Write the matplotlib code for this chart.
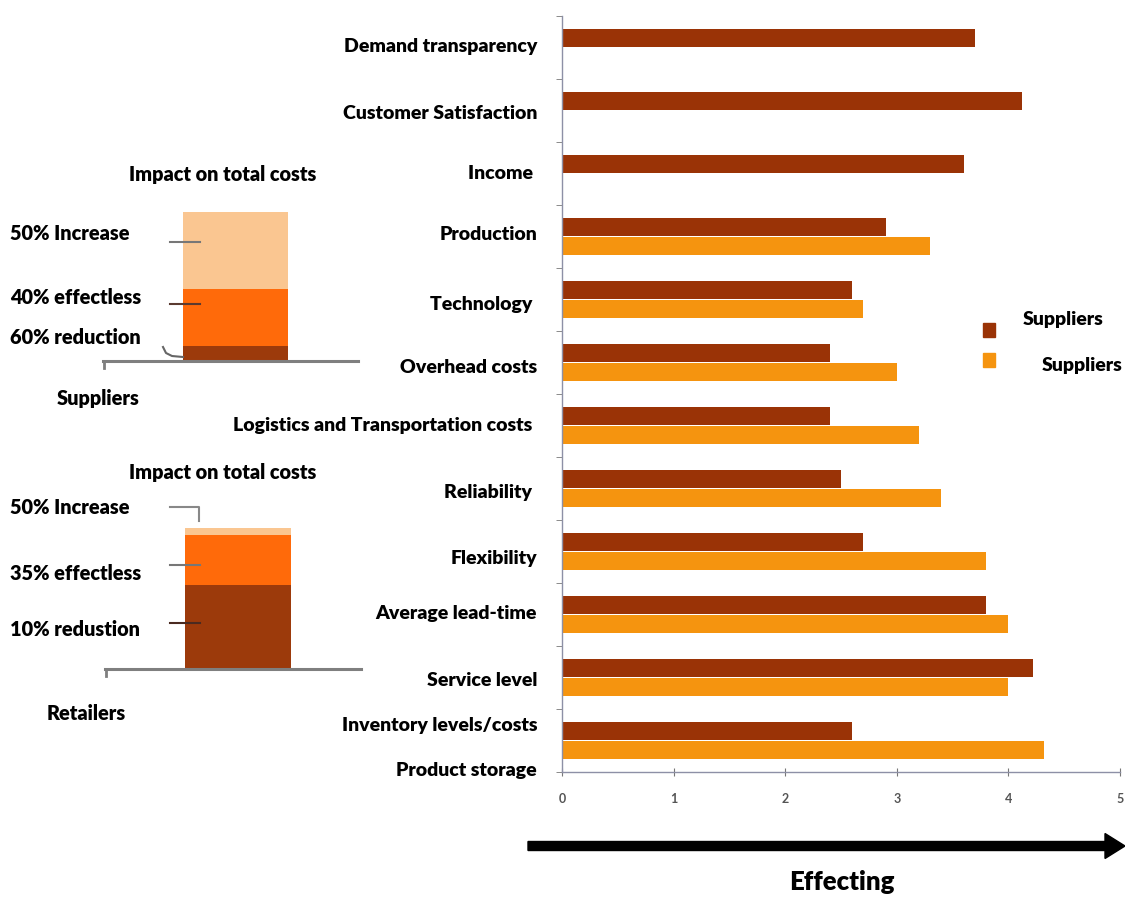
import matplotlib
matplotlib.use("Agg")
import matplotlib.pyplot as plt
import numpy as np
from matplotlib.patches import FancyArrow, Rectangle
from matplotlib.lines import Line2D

plt.rcParams['font.family'] = ['Lato', 'DejaVu Sans']
WT = "heavy"

# ---------------- data ----------------
categories = ["Demand transparency", "Customer Satisfaction", "Income", "Production",
              "Technology", "Overhead costs", "Logistics and Transportation costs",
              "Reliability", "Flexibility", "Average lead-time", "Service level",
              "Inventory levels/costs"]
label_texts = ["Demand transparency", "Customer Satisfaction", "Income ", "Production",
               "Technology ", "Overhead costs", "Logistics and Transportation costs ",
               "Reliability ", "Flexibility", "Average lead-time", "Service level",
               "Inventory levels/costs", "Product storage"]
label_pos = [-0.04, 1.02, 1.98, 2.94, 4.06, 5.06, 5.98, 7.04, 8.08, 8.96, 10.02, 10.74, 11.45]
series1 = [3.7, 4.12, 3.6, 2.9, 2.6, 2.4, 2.4, 2.5, 2.7, 3.8, 4.22, 2.6]
series2 = [np.nan, np.nan, np.nan, 3.3, 2.7, 3.0, 3.2, 3.4, 3.8, 4.0, 4.0, 4.32]
legend_labels = ["Suppliers", "Suppliers"]
xticks = [0, 1, 2, 3, 4, 5]

panel_titles = ["Impact on total costs", "Impact on total costs"]
panel_names = ["Suppliers", "Retailers"]
panel1_segments = [10.5, 37.5, 51.5]   # reduction, effectless, increase
panel2_segments = [56.0, 33.5, 4.5]
panel1_labels = ["50% Increase", "40% effectless", "60% reduction"]
panel2_labels = ["50% Increase", "35% effectless", "10% redustion"]

C_DARK = "#9A3306"
C_ORANGE = "#F5940F"
P_LIGHT = "#FAC691"
P_ORANGE = "#FF6A0A"
P_DARK = "#9C3A0B"

W, H = 1125, 905
fig = plt.figure(figsize=(W / 100, H / 100), dpi=100)
fig.patch.set_facecolor("white")

def fx(px):
    return px / W

def fy(py):
    return 1 - py / H

# ---------------- main bar chart ----------------
ax = fig.add_axes([fx(562), fy(772), fx(1120) - fx(562), fy(16) - fy(772)])
y = np.arange(len(categories))
off = 0.15
hgt = 0.28
ax.barh(y - off, series1, height=hgt, color=C_DARK)
ax.barh(y + off, series2, height=hgt, color=C_ORANGE)
ax.set_xlim(0, 5)
ax.set_ylim(11.5, -0.5)
for s in ["top", "right"]:
    ax.spines[s].set_visible(False)
for s in ["left", "bottom"]:
    ax.spines[s].set_color("#8d90a6")
    ax.spines[s].set_linewidth(1.0)
ax.set_xticks(xticks)
ax.set_xticklabels([str(t) for t in xticks], fontsize=9, color="#555555", fontweight="bold")
ax.tick_params(axis="x", direction="inout", length=6, color="#777777", pad=12)
ax.set_yticks(label_pos)
ax.set_yticklabels(label_texts, fontsize=14, fontweight=WT, color="black")
ax.tick_params(axis="y", which="major", length=0, pad=18)
ax.set_yticks(np.arange(-0.5, 12, 1.0), minor=True)
ax.tick_params(axis="y", which="minor", length=4, color="#777777", direction="out")

# legend
for (ypx, col) in [(330, C_DARK), (360, C_ORANGE)]:
    fig.add_artist(Rectangle((fx(983), fy(ypx + 7)), fx(12), (14 / H), color=col,
                             transform=fig.transFigure))
fig.text(fx(1023), fy(320), legend_labels[0], fontsize=14, fontweight=WT, va="center", ha="left")
fig.text(fx(1042), fy(366), legend_labels[1], fontsize=14, fontweight=WT, va="center", ha="left")

# arrow and label
fig.add_artist(FancyArrow(fx(528), fy(846), fx(1125) - fx(528), 0, width=9 / H,
                          head_width=25 / H, head_length=20 / W, length_includes_head=True,
                          color="black", transform=fig.transFigure))
fig.text(fx(842), fy(882), "Effecting", fontsize=18.5, fontweight=WT, ha="center", va="center")

# ---------------- left panels ----------------
def panel(x0, x1, base, segs, labels, label_ys, title_y, name, name_x, name_y, leaders):
    pax = fig.add_axes([fx(x0), fy(base), fx(x1) - fx(x0), 150 / H])
    pax.set_xlim(-1.262, 1.167)
    pax.set_ylim(0, 100)
    bottom = 0
    for v, c in zip(segs, [P_DARK, P_ORANGE, P_LIGHT]):
        pax.bar(0, v, width=1.0, bottom=bottom, color=c)
        bottom += v
    for s in ["top", "right", "left"]:
        pax.spines[s].set_visible(False)
    pax.spines["bottom"].set_color("#7f7f7f")
    pax.spines["bottom"].set_linewidth(2.2)
    pax.set_xticks([])
    pax.set_yticks([])
    pax.patch.set_alpha(0)
    # little end tick on baseline
    fig.add_artist(Line2D([fx(x0 + 1), fx(x0 + 1)], [fy(base), fy(base + 7)], color="#7f7f7f",
                          lw=2, transform=fig.transFigure))
    fig.text(fx(223), fy(title_y), panel_titles[0], fontsize=14.3, fontweight=WT,
             ha="center", va="center")
    for lab, ly in zip(labels, label_ys):
        fig.text(fx(10), fy(ly), lab, fontsize=14.3, fontweight=WT, ha="left", va="center")
    fig.text(fx(name_x), fy(name_y), name, fontsize=14.3, fontweight=WT, ha="left", va="center")
    for xs, ys, col in leaders:
        fig.add_artist(Line2D([fx(v) for v in xs], [fy(v) for v in ys], color=col, lw=1.5,
                              transform=fig.transFigure))
    return pax

panel(103, 358, 361.5, panel1_segments, panel1_labels, [233, 297, 337], 174,
      panel_names[0], 57, 398,
      [([170, 200], [242, 242], "#777777"),
       ([170, 200], [304, 304], "#5a3a30"),
       ([163, 166, 172, 183], [347, 353, 356, 357], "#666666")])
panel(105, 361, 669, panel2_segments, panel2_labels, [507, 573, 629], 472,
      panel_names[1], 47, 713,
      [([170, 199, 199], [507, 507, 521], "#888888"),
       ([170, 200], [565, 565], "#777777"),
       ([170, 200], [623, 623], "#4a2a20")])

fig.savefig("out.png", dpi=100, facecolor="white")
